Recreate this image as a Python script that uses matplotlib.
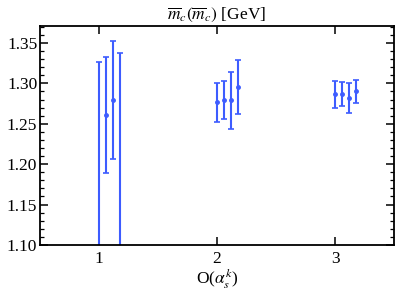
import matplotlib
matplotlib.use('Agg')
import matplotlib.pyplot as plt
from matplotlib.ticker import MultipleLocator

plt.rcParams['font.family'] = ['Liberation Serif', 'DejaVu Serif']
plt.rcParams['mathtext.fontset'] = 'stix'

# values: (order, offset) positions, central values, errors
x_order = [1, 1.06, 1.12, 1.18,
           2, 2.06, 2.12, 2.18,
           3, 3.06, 3.12, 3.18]
mc = [1.06, 1.261, 1.280, 1.09,
      1.2765, 1.2795, 1.279, 1.2955,
      1.2865, 1.2867, 1.2815, 1.290]
err = [0.266, 0.072, 0.073, 0.248,
       0.0245, 0.0235, 0.035, 0.0335,
       0.0165, 0.0147, 0.0185, 0.014]

blue = '#3d5cff'

fig = plt.figure(figsize=(4.03, 2.94), dpi=100)
ax = fig.add_axes([0.0993, 0.1667, 0.8784, 0.745])

ax.errorbar(x_order, mc, yerr=err, fmt='o', color=blue, ms=2.5,
            elinewidth=1.5, capsize=2.5, capthick=1.2)

ax.set_xlim(0.5, 3.5)
ax.set_ylim(1.10, 1.371)
ax.set_xticks([1, 2, 3])
ax.yaxis.set_major_locator(MultipleLocator(0.05))
ax.yaxis.set_minor_locator(MultipleLocator(0.01))
ax.set_yticklabels(['%.2f' % v for v in ax.get_yticks()])
ax.tick_params(which='both', direction='in', top=True, right=True,
               labelsize=12.5, color='black', pad=2)
ax.tick_params(which='major', length=6, width=1.1)
ax.tick_params(which='minor', length=3, width=0.9)
ax.tick_params(axis='x', which='minor', top=False, bottom=False)
ax.tick_params(axis='x', pad=4)
for s in ax.spines.values():
    s.set_linewidth(1.3)

ax.set_title(r'$\overline{m}_c(\overline{m}_c)$ [GeV]', fontsize=12.5, pad=5)
ax.set_xlabel(r'O($\alpha_s^k$)', fontsize=12.5, labelpad=0)

fig.savefig('out.png', dpi=100)
plt.close(fig)
